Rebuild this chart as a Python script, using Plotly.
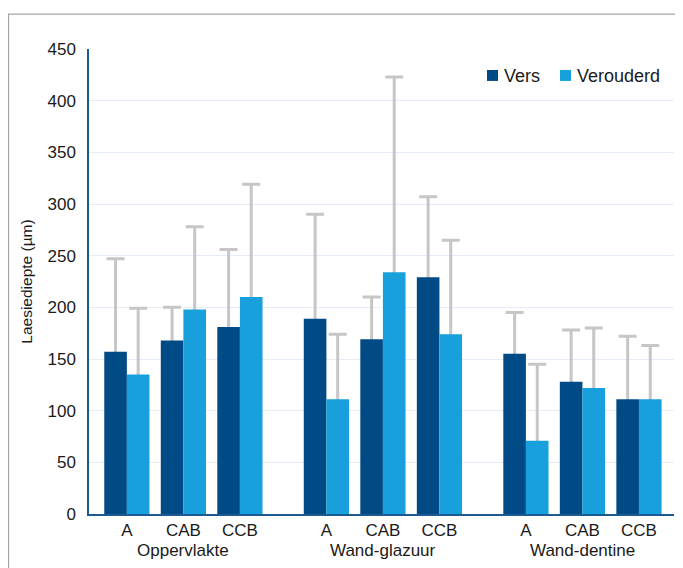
import plotly.graph_objects as go

groups = ["Oppervlakte", "Wand-glazuur", "Wand-dentine"]
subcats = ["A", "CAB", "CCB"]
series_names = ["Vers", "Verouderd"]

vers_mean = [157, 168, 181, 189, 169, 229, 155, 128, 111]
vers_sd = [90, 32, 75, 101, 41, 78, 40, 50, 61]
verouderd_mean = [135, 198, 210, 111, 234, 174, 71, 122, 111]
verouderd_sd = [64, 80, 109, 63, 189, 91, 74, 58, 52]

y_ticks = [0, 50, 100, 150, 200, 250, 300, 350, 400, 450]

colors = ["#004a86", "#17a0db"]
FONT = "Liberation Sans, Arial, sans-serif"
TXT = "#1a1a1a"
GROUP_GAP = 0.53

xpos = []
ticktext = []
for gi, g in enumerate(groups):
    for si, s in enumerate(subcats):
        xpos.append(gi * (len(subcats) + GROUP_GAP) + si)
        ticktext.append(s)

fig = go.Figure()
series = [(vers_mean, vers_sd), (verouderd_mean, verouderd_sd)]
# error-bar layer (transparent bars) underneath
for k, (m, sd) in enumerate(series):
    fig.add_trace(go.Bar(
        x=xpos, y=m, offsetgroup=str(k), showlegend=False,
        marker=dict(color="rgba(0,0,0,0)", line=dict(width=0)),
        error_y=dict(type="data", symmetric=False, array=sd, arrayminus=m,
                     color="#c6c6c6", thickness=3, width=9),
        hoverinfo="skip",
    ))
# solid bars on top
for k, (m, sd) in enumerate(series):
    fig.add_trace(go.Bar(
        x=xpos, y=m, offsetgroup=str(k), name=series_names[k], showlegend=False,
        marker=dict(color=colors[k], line=dict(width=0)),
    ))

# group labels
centers = [sum(xpos[gi * 3:(gi + 1) * 3]) / 3 for gi in range(len(groups))]
for gi, g in enumerate(groups):
    fig.add_annotation(x=centers[gi], y=0, xref="x", yref="paper", yshift=-36.5,
                       yanchor="middle", xanchor="center",
                       text=g, showarrow=False,
                       font=dict(family=FONT, size=17, color=TXT))

# legend (manual, to match the compact spacing)
legend_items = [(0.6803, 0.6991, 0.706), (0.8051, 0.8239, 0.8308)]
for k, (sx0, sx1, tx) in enumerate(legend_items):
    fig.add_shape(type="rect", xref="paper", yref="paper",
                  x0=sx0, x1=sx1, y0=0.9313, y1=0.9549,
                  fillcolor=colors[k], line=dict(width=0))
    fig.add_annotation(x=tx, y=0.942, xref="paper", yref="paper",
                       xanchor="left", yanchor="middle", showarrow=False,
                       text=series_names[k],
                       font=dict(family=FONT, size=18, color=TXT))

# outer frame
fig.add_shape(type="rect", xref="paper", yref="paper",
              x0=-0.1375, y0=-0.3, x1=1.2, y1=1.0752,
              line=dict(color="#a6a6a6", width=1.2), fillcolor="rgba(0,0,0,0)", layer="below")

fig.update_layout(
    width=675, height=560,
    margin=dict(l=81, r=9, t=41, b=53.5, autoexpand=False),
    paper_bgcolor="white", plot_bgcolor="white",
    barmode="group", bargap=0.2, bargroupgap=0,
    font=dict(family=FONT, size=17, color=TXT),
    showlegend=False,
    xaxis=dict(tickmode="array", tickvals=xpos, ticktext=ticktext,
               range=[-0.67, xpos[-1] + 0.62], showgrid=False, zeroline=False,
               showline=True, linecolor="#1d5a92", linewidth=1.5,
               ticks="", tickfont=dict(size=17), automargin=False),
    yaxis=dict(range=[0, 450], tickvals=y_ticks, showgrid=True,
               gridcolor="#e4edf8", gridwidth=1, zeroline=False,
               showline=True, linecolor="#1d5a92", linewidth=1.5,
               ticks="", ticklabelstandoff=8, tickfont=dict(size=17),
               automargin=False,
               title=dict(text="Laesiediepte (µm)", font=dict(size=15.5), standoff=11)),
)

fig.write_html("out.html")
